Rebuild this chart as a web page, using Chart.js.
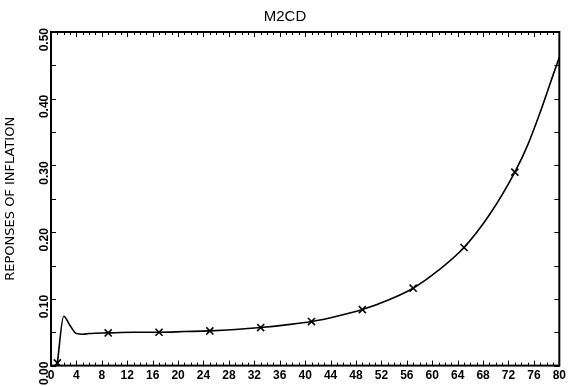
<!DOCTYPE html>
<html>
<head>
<meta charset="utf-8">
<script src="https://cdn.jsdelivr.net/npm/chart.js@4"></script>
<style>
  html, body { margin: 0; padding: 0; background: #fff; }
  #wrap { width: 569px; height: 386px; }
</style>
</head>
<body>
<div id="wrap"><canvas id="m2cdChart"></canvas></div>
<script>
// periods and response values
const periods = [1, 2, 3, 4, 5, 6, 9, 13, 17, 21, 25, 29, 33, 37, 41, 45, 49, 53, 57, 61, 65, 69, 73, 75, 77, 79, 80];
const responses = [0.004, 0.074, 0.060, 0.048, 0.047, 0.048, 0.049, 0.050, 0.050, 0.051, 0.052, 0.054, 0.057,
  0.061, 0.066, 0.074, 0.084, 0.098, 0.116, 0.143, 0.177, 0.226, 0.290, 0.330, 0.380, 0.435, 0.462];
// periods that carry an "x" marker
const markedAt = [1, 9, 17, 25, 33, 41, 49, 57, 65, 73];
const xTickStep = 4;
const yTickStep = 0.1;

const points = periods.map((p, i) => ({ x: p, y: responses[i] }));

// frame plus small inward ticks on all four sides
const frameTicks = {
  id: 'frameTicks',
  afterDraw(chart) {
    const { ctx, chartArea: a, scales } = chart;
    const xs = scales.x, ys = scales.y;
    ctx.save();
    ctx.strokeStyle = '#000';
    ctx.lineWidth = 1;
    ctx.beginPath();
    for (let v = xs.min; v <= xs.max; v += 1) {
      const px = Math.round(xs.getPixelForValue(v)) + 0.5;
      const len = v % 4 === 0 ? 5 : 3;
      ctx.moveTo(px, a.bottom); ctx.lineTo(px, a.bottom - len);
      ctx.moveTo(px, a.top); ctx.lineTo(px, a.top + len);
    }
    for (let k = 0; k <= 10; k++) {
      const py = Math.round(ys.getPixelForValue(k * 0.05)) + 0.5;
      ctx.moveTo(a.left, py); ctx.lineTo(a.left + 5, py);
      ctx.moveTo(a.right, py); ctx.lineTo(a.right - 5, py);
    }
    ctx.stroke();
    ctx.lineWidth = 2;
    ctx.strokeRect(a.left, a.top, a.right - a.left, a.bottom - a.top);
    ctx.restore();
  }
};

new Chart(document.getElementById('m2cdChart').getContext('2d'), {
  type: 'line',
  data: {
    datasets: [{
      label: 'M2CD',
      data: points,
      borderColor: '#000',
      borderWidth: 1.6,
      cubicInterpolationMode: 'monotone',
      fill: false,
      pointStyle: 'crossRot',
      pointBorderColor: '#000',
      pointBorderWidth: 1.6,
      pointRadius: ctx => markedAt.includes(ctx.raw && ctx.raw.x) ? 5 : 0,
      pointHoverRadius: 0
    }]
  },
  options: {
    responsive: true,
    maintainAspectRatio: false,
    animation: false,
    layout: { padding: { top: 0, right: 2, bottom: 0, left: 3 } },
    plugins: {
      legend: { display: false },
      tooltip: { enabled: false },
      title: {
        display: true,
        text: 'M2CD',
        color: '#000',
        font: { family: 'Liberation Sans', size: 15, weight: 'normal' },
        padding: { top: 8, bottom: 6 }
      }
    },
    scales: {
      x: {
        type: 'linear',
        min: 0,
        max: 80,
        grid: { display: false, drawTicks: false },
        border: { display: false },
        ticks: {
          stepSize: xTickStep,
          color: '#000',
          padding: 3,
          maxRotation: 0,
          autoSkip: false,
          font: { family: 'Liberation Sans', size: 12, weight: 'bold' }
        }
      },
      y: {
        min: 0,
        max: 0.5,
        grid: { display: false, drawTicks: false },
        border: { display: false },
        title: {
          display: true,
          text: 'REPONSES OF INFLATION',
          color: '#000',
          font: { family: 'DejaVu Sans', size: 13 },
          padding: { top: 0, bottom: 6 }
        },
        ticks: {
          stepSize: yTickStep,
          color: '#000',
          padding: 6,
          labelOffset: -4,
          minRotation: 90,
          maxRotation: 90,
          font: { family: 'Liberation Sans', size: 12, weight: 'bold' },
          callback: v => v.toFixed(2)
        }
      }
    }
  },
  plugins: [frameTicks]
});
</script>
</body>
</html>
